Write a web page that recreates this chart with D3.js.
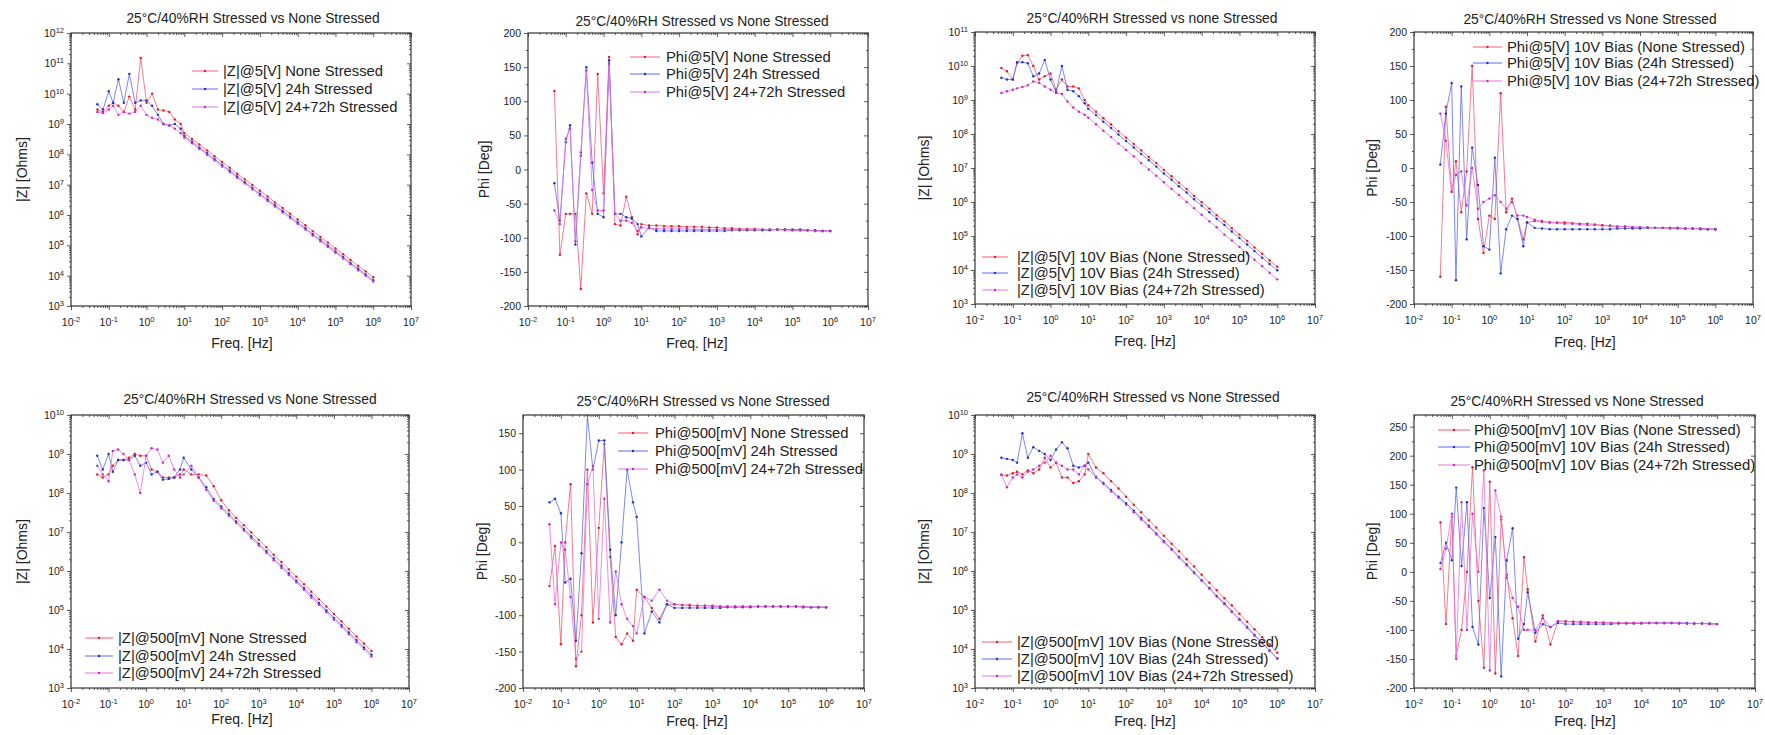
<!DOCTYPE html>
<html>
<head>
<meta charset="utf-8">
<script src="https://cdn.jsdelivr.net/npm/d3@7"></script>
<style>
  body { margin: 0; background: #fff; }
  text { font-family: "Liberation Sans", Arial, sans-serif; fill: #222; }
</style>
</head>
<body>
<script>
// frequency points shared by every sweep (Hz)
const freq = [0.05, 0.07, 0.1, 0.13, 0.18, 0.25, 0.35, 0.5, 0.7, 1, 1.4, 2, 2.8, 4, 5.6, 8,
  10, 16, 25, 40, 63, 100, 160, 250, 400, 630, 1e3, 1.6e3, 2.5e3, 4e3, 6.3e3,
  1e4, 1.6e4, 2.5e4, 4e4, 6.3e4, 1e5, 1.6e5, 2.5e5, 4e5, 6.3e5, 1e6];

// |Z|@5[V]
const zA_none = [3e9, 2.5e9, 4e9, 5e9, 4e9, 2.5e9, 8e9, 3e9, 1.5e11, 5e9, 1e10, 3e9, 2.8e9, 2.5e9, 1.4e9, 1e9, 5e8, 3.2e8, 2.1e8, 1.35e8, 8.7e7, 5.6e7, 3.6e7, 2.3e7, 1.5e7, 9.8e6, 6.3e6, 4.1e6, 2.6e6, 1.7e6, 1.1e6, 7.1e5, 4.6e5, 2.95e5, 1.9e5, 1.23e5, 7.9e4, 5.1e4, 3.3e4, 2.1e4, 1.38e4, 8.9e3];
const zA_24h = [4.5e9, 3e9, 1.2e10, 5e9, 3e10, 5e9, 4.5e10, 5e9, 6e9, 6e9, 4e9, 2e9, 1e9, 9e8, 1e9, 7e8, 4e8, 2.6e8, 1.67e8, 1.08e8, 7e7, 4.5e7, 2.9e7, 1.87e7, 1.2e7, 7.8e6, 5e6, 3.25e6, 2.1e6, 1.36e6, 8.8e5, 5.65e5, 3.65e5, 2.36e5, 1.52e5, 9.8e4, 6.3e4, 4.1e4, 2.64e4, 1.7e4, 1.1e4, 7.1e3];
const zA_96h = [2.5e9, 2.3e9, 3e9, 4e9, 2e9, 2.5e9, 2.2e9, 2.5e9, 4e9, 2e9, 1.6e9, 1.4e9, 1e9, 9e8, 7e8, 5e8, 3.6e8, 2.3e8, 1.5e8, 9.7e7, 6.3e7, 4e7, 2.6e7, 1.7e7, 1.1e7, 7e6, 4.5e6, 2.9e6, 1.9e6, 1.2e6, 7.9e5, 5.1e5, 3.3e5, 2.1e5, 1.37e5, 8.8e4, 5.7e4, 3.7e4, 2.4e4, 1.5e4, 9.9e3, 6.4e3];

// Phi@5[V]
const phiA_none = [115, -125, -65, -65, -65, -175, -35, -65, 140, -35, 165, -80, -82, -40, -70, -95, -80, -82, -82, -83, -83, -83, -84, -84, -84, -85, -85, -86, -86, -87, -87, -87, -88, -88, -88, -88, -89, -89, -89, -90, -90, -90];
const phiA_24h = [-20, -75, 40, 65, -110, 20, 150, 10, -65, -70, 160, -65, -65, -70, -72, -80, -98, -85, -90, -90, -90, -90, -90, -90, -90, -90, -90, -90, -89, -89, -89, -89, -89, -89, -88, -88, -88, -88, -89, -89, -90, -90];
const phiA_96h = [-60, -80, 45, 60, -105, 25, 145, -30, -60, -60, 155, -65, -75, -75, -78, -90, -85, -86, -87, -87, -87, -87, -87, -88, -88, -88, -88, -88, -88, -88, -88, -88, -88, -88, -88, -89, -89, -89, -89, -90, -90, -90];

// |Z|@5[V] 10V bias
const zB_none = [8.7e9, 7e9, 4e9, 1.2e10, 2e10, 2.1e10, 1e10, 4e9, 5e9, 6e9, 2e9, 4e9, 2.5e9, 2.5e9, 2.2e9, 1e9, 7e8, 4.5e8, 2.9e8, 1.9e8, 1.2e8, 7.8e7, 5.1e7, 3.3e7, 2.1e7, 1.4e7, 8.8e6, 5.7e6, 3.7e6, 2.4e6, 1.5e6, 9.9e5, 6.4e5, 4.1e5, 2.7e5, 1.7e5, 1.1e5, 7.2e4, 4.6e4, 3e4, 1.9e4, 1.25e4];
const zB_24h = [4.5e9, 4e9, 4e9, 1.3e10, 1.3e10, 1.2e10, 5e9, 6e9, 1.5e10, 4e9, 1.7e9, 1e10, 2e9, 1.8e9, 1.3e9, 8e8, 5.5e8, 3.6e8, 2.3e8, 1.5e8, 9.6e7, 6.2e7, 4e7, 2.6e7, 1.7e7, 1.1e7, 6.9e6, 4.5e6, 2.9e6, 1.9e6, 1.2e6, 7.8e5, 5e5, 3.2e5, 2.1e5, 1.35e5, 8.7e4, 5.6e4, 3.6e4, 2.3e4, 1.5e4, 9.8e3];
const zB_96h = [1.6e9, 1.8e9, 2e9, 2.2e9, 2.4e9, 2.7e9, 3.5e9, 3.2e9, 2.5e9, 2e9, 1.6e9, 1.5e9, 9e8, 6e8, 4.5e8, 3.7e8, 3e8, 1.94e8, 1.25e8, 8.1e7, 5.2e7, 3.4e7, 2.2e7, 1.4e7, 9e6, 5.9e6, 3.8e6, 2.4e6, 1.6e6, 1e6, 6.6e5, 4.2e5, 2.7e5, 1.8e5, 1.1e5, 7.4e4, 4.8e4, 3.1e4, 2e4, 1.3e4, 8.3e3, 5.3e3];

// Phi@5[V] 10V bias
const phiB_none = [-160, 90, -35, 10, -65, -5, 150, -75, -125, -70, -75, 110, -65, -45, -75, -105, -80, -78, -79, -80, -80, -80, -81, -82, -82, -83, -84, -85, -86, -86, -87, -87, -88, -88, -88, -89, -89, -89, -89, -90, -90, -90];
const phiB_24h = [5, 80, 125, -165, 120, -105, 30, -25, -115, -120, 15, -155, -90, -70, -75, -115, -80, -88, -89, -90, -90, -90, -90, -90, -90, -90, -90, -90, -89, -89, -89, -89, -88, -88, -88, -88, -88, -89, -89, -89, -90, -90];
const phiB_96h = [80, 40, -35, -10, -5, -55, 0, -60, -50, -45, -40, -50, -60, -50, -70, -70, -72, -76, -78, -80, -81, -82, -82, -83, -84, -84, -85, -85, -86, -86, -87, -87, -87, -88, -88, -88, -88, -89, -89, -89, -90, -90];

// |Z|@500[mV]
const zC_none = [3e8, 2.5e8, 3e8, 5e8, 7e8, 7e8, 8e8, 1e9, 9e8, 9e8, 4e8, 3.5e8, 2.5e8, 2.5e8, 2.5e8, 3e8, 4e8, 3e8, 3e8, 2.8e8, 1.5e8, 6.5e7, 3.6e7, 2.3e7, 1.5e7, 9.8e6, 6.3e6, 4.1e6, 2.6e6, 1.7e6, 1.1e6, 7.1e5, 4.6e5, 2.95e5, 1.9e5, 1.23e5, 7.9e4, 5.1e4, 3.3e4, 2.1e4, 1.38e4, 8.9e3];
const zC_24h = [9e8, 4e8, 1e9, 3.5e8, 7e8, 7e8, 7e8, 9e8, 5e8, 6e8, 3e8, 3.5e8, 2.2e8, 2.3e8, 2.5e8, 4e8, 8e8, 4e8, 2.5e8, 1.4e8, 7e7, 4.5e7, 2.9e7, 1.87e7, 1.2e7, 7.8e6, 5e6, 3.25e6, 2.1e6, 1.36e6, 8.8e5, 5.65e5, 3.65e5, 2.36e5, 1.52e5, 9.8e4, 6.3e4, 4.1e4, 2.64e4, 1.7e4, 1.1e4, 7.1e3];
const zC_96h = [5e8, 3e8, 2e8, 1.2e9, 1.3e9, 1e9, 7e8, 3e8, 1e8, 9e8, 1.4e9, 1.3e9, 6e8, 9e8, 4e8, 2.5e8, 3e8, 5e8, 2.5e8, 1.2e8, 6.3e7, 4e7, 2.6e7, 1.7e7, 1.1e7, 7e6, 4.5e6, 2.9e6, 1.9e6, 1.2e6, 7.9e5, 5.1e5, 3.3e5, 2.1e5, 1.37e5, 8.8e4, 5.7e4, 3.7e4, 2.4e4, 1.5e4, 9.9e3, 6.4e3];

// Phi@500[mV]
const phiC_none = [-60, -5, -140, 0, 80, -170, -100, 100, -110, 20, 135, -20, -130, -140, -125, -135, -65, -75, -90, -105, -85, -85, -86, -86, -87, -87, -87, -88, -88, -88, -88, -88, -88, -88, -88, -88, -88, -88, -88, -89, -89, -89];
const phiC_24h = [55, 60, 40, -55, -50, -135, -15, 175, 100, 140, 140, -10, -100, 0, 100, 55, 35, -125, -95, -110, -85, -90, -90, -90, -90, -90, -90, -90, -89, -89, -89, -89, -88, -88, -88, -88, -88, -88, -89, -89, -89, -89];
const phiC_96h = [25, -85, 0, -10, -75, -160, -150, 80, 105, -105, 60, -110, -40, -85, -105, -115, -125, -75, -80, -65, -80, -85, -86, -87, -87, -87, -88, -88, -88, -88, -88, -88, -88, -88, -88, -88, -88, -88, -89, -89, -89, -89];

// |Z|@500[mV] 10V bias
const zD_none = [2.9e8, 2.8e8, 3.2e8, 3.5e8, 3e8, 3.8e8, 3.2e8, 4e8, 8e8, 4.5e8, 6e8, 2.5e8, 2.5e8, 1.8e8, 2e8, 3e8, 1e9, 4.5e8, 3.2e8, 2e8, 1.3e8, 8e7, 5e7, 3.2e7, 2e7, 1.3e7, 8e6, 5e6, 3.2e6, 2e6, 1.3e6, 8e5, 5e5, 3.2e5, 2e5, 1.3e5, 8e4, 5e4, 3.2e4, 2e4, 1.3e4, 8e3];
const zD_24h = [8e8, 7.5e8, 7e8, 6e8, 3.4e9, 8e8, 1.5e9, 1.2e9, 1e9, 7e8, 1.3e9, 2e9, 1.4e9, 5e8, 4.5e8, 5e8, 6e8, 2.5e8, 1.8e8, 1.2e8, 8e7, 5.5e7, 3.5e7, 2.3e7, 1.45e7, 9.2e6, 5.8e6, 3.7e6, 2.3e6, 1.5e6, 9.2e5, 5.8e5, 3.7e5, 2.3e5, 1.5e5, 9.2e4, 5.8e4, 3.7e4, 2.3e4, 1.45e4, 9.2e3, 5.8e3];
const zD_96h = [3e8, 1.4e8, 2.5e8, 3e8, 2.5e8, 3.5e8, 4e8, 5e8, 6e8, 9e8, 6e8, 5e8, 4e8, 4e8, 3e8, 5e8, 4e8, 2.6e8, 1.7e8, 1.1e8, 7.5e7, 5e7, 3.2e7, 2.1e7, 1.35e7, 8.6e6, 5.5e6, 3.5e6, 2.2e6, 1.4e6, 8.8e5, 5.6e5, 3.5e5, 2.2e5, 1.4e5, 8.9e4, 5.6e4, 3.5e4, 2.2e4, 1.4e4, 8.9e3, 5.6e3];

// Phi@500[mV] 10V bias
const phiD_none = [85, -90, 95, -145, -100, 0, 180, -50, -165, 155, -175, 90, -5, -80, -145, 25, -30, -120, -75, -125, -85, -85, -86, -86, -87, -87, -87, -88, -88, -88, -88, -88, -88, -88, -88, -88, -89, -89, -89, -89, -90, -90];
const phiD_24h = [15, 50, 20, 145, 10, 120, -95, -125, 110, -45, 60, -180, 20, 75, -115, -90, -35, -105, -90, -95, -88, -90, -90, -90, -90, -90, -90, -90, -89, -89, -89, -89, -88, -88, -88, -88, -88, -88, -89, -89, -89, -90];
const phiD_96h = [5, 40, 100, -150, 120, -100, 100, 0, 175, -170, 140, 95, -10, -45, -60, -100, -100, -100, -80, -95, -85, -86, -86, -87, -87, -87, -88, -88, -88, -88, -88, -88, -88, -88, -88, -88, -88, -89, -89, -89, -89, -90];

// tick labels
const xTickExps = [-2, -1, 0, 1, 2, 3, 4, 5, 6, 7];
const zExps12 = [3, 4, 5, 6, 7, 8, 9, 10, 11, 12];
const zExps11 = [3, 4, 5, 6, 7, 8, 9, 10, 11];
const zExps10 = [3, 4, 5, 6, 7, 8, 9, 10];
const phiTicks200 = [-200, -150, -100, -50, 0, 50, 100, 150, 200];
const phiTicks150 = [-200, -150, -100, -50, 0, 50, 100, 150];
const phiTicks250 = [-200, -150, -100, -50, 0, 50, 100, 150, 200, 250];

// titles and legend texts
const titleMain = '25°C/40%RH Stressed vs None Stressed';
const titleLower = '25°C/40%RH Stressed vs none Stressed';
const legA = ['|Z|@5[V] None Stressed', '|Z|@5[V] 24h Stressed', '|Z|@5[V] 24+72h Stressed'];
const legPA = ['Phi@5[V] None Stressed', 'Phi@5[V] 24h Stressed', 'Phi@5[V] 24+72h Stressed'];
const legB = ['|Z|@5[V] 10V Bias (None Stressed)', '|Z|@5[V] 10V Bias (24h Stressed)', '|Z|@5[V] 10V Bias (24+72h Stressed)'];
const legPB = ['Phi@5[V] 10V Bias (None Stressed)', 'Phi@5[V] 10V Bias (24h Stressed)', 'Phi@5[V] 10V Bias (24+72h Stressed)'];
const legC = ['|Z|@500[mV] None Stressed', '|Z|@500[mV] 24h Stressed', '|Z|@500[mV] 24+72h Stressed'];
const legPC = ['Phi@500[mV] None Stressed', 'Phi@500[mV] 24h Stressed', 'Phi@500[mV] 24+72h Stressed'];
const legD = ['|Z|@500[mV] 10V Bias (None Stressed)', '|Z|@500[mV] 10V Bias (24h Stressed)', '|Z|@500[mV] 10V Bias (24+72h Stressed)'];
const legPD = ['Phi@500[mV] 10V Bias (None Stressed)', 'Phi@500[mV] 10V Bias (24h Stressed)', 'Phi@500[mV] 10V Bias (24+72h Stressed)'];

const lineColors = ['#f65a72', '#5f6af0', '#e672e2'];
const dotColors = ['#d81c2c', '#1f2fc4', '#c02ec0'];

const width = 1765;
const height = 735;

const svg = d3.select('body')
    .append('svg')
    .attr('width', width)
    .attr('height', height);

const panels = [
    { left: 71, top: 33, w: 340, h: 273, log: true, yDom: [1e3, 1e12], yTicks: zExps12,
      title: titleMain, tx: 253, ty: 23, ylab: '|Z| [Ohms]', ylx: 27, xlx: 242, xly: 348,
      series: [zA_none, zA_24h, zA_96h], leg: legA, lg: { x1: 192, x2: 218, tx: 223, ys: [71, 89, 107] } },
    { left: 528, top: 33, w: 340, h: 273, log: false, yDom: [-200, 200], yTicks: phiTicks200,
      title: titleMain, tx: 702, ty: 26, ylab: 'Phi [Deg]', ylx: 489, xlx: 697, xly: 348,
      series: [phiA_none, phiA_24h, phiA_96h], leg: legPA, lg: { x1: 630, x2: 660, tx: 666, ys: [57, 74, 92] } },
    { left: 975, top: 32, w: 340, h: 272, log: true, yDom: [1e3, 1e11], yTicks: zExps11,
      title: titleLower, tx: 1152, ty: 23, ylab: '|Z| [Ohms]', ylx: 929, xlx: 1145, xly: 346,
      series: [zB_none, zB_24h, zB_96h], leg: legB, lg: { x1: 982, x2: 1008, tx: 1017, ys: [257, 273, 290] } },
    { left: 1414, top: 32, w: 339, h: 272, log: false, yDom: [-200, 200], yTicks: phiTicks200,
      title: titleMain, tx: 1590, ty: 24, ylab: 'Phi [Deg]', ylx: 1377, xlx: 1585, xly: 347,
      series: [phiB_none, phiB_24h, phiB_96h], leg: legPB, lg: { x1: 1473, x2: 1502, tx: 1507, ys: [47, 63, 81] } },
    { left: 71, top: 415, w: 338, h: 273, log: true, yDom: [1e3, 1e10], yTicks: zExps10,
      title: titleMain, tx: 250, ty: 404, ylab: '|Z| [Ohms]', ylx: 27, xlx: 242, xly: 724,
      series: [zC_none, zC_24h, zC_96h], leg: legC, lg: { x1: 85, x2: 113, tx: 118, ys: [638, 656, 673] } },
    { left: 523, top: 415, w: 341, h: 273, log: false, yDom: [-200, 175], yTicks: phiTicks150,
      title: titleMain, tx: 703, ty: 406, ylab: 'Phi [Deg]', ylx: 487, xlx: 697, xly: 726,
      series: [phiC_none, phiC_24h, phiC_96h], leg: legPC, lg: { x1: 618, x2: 648, tx: 655, ys: [433, 451, 469] } },
    { left: 975, top: 415, w: 340, h: 273, log: true, yDom: [1e3, 1e10], yTicks: zExps10,
      title: titleMain, tx: 1153, ty: 402, ylab: '|Z| [Ohms]', ylx: 929, xlx: 1145, xly: 726,
      series: [zD_none, zD_24h, zD_96h], leg: legD, lg: { x1: 982, x2: 1012, tx: 1017, ys: [642, 659, 676] } },
    { left: 1414, top: 415, w: 341, h: 273, log: false, yDom: [-200, 270], yTicks: phiTicks250,
      title: titleMain, tx: 1577, ty: 406, ylab: 'Phi [Deg]', ylx: 1377, xlx: 1585, xly: 726,
      series: [phiD_none, phiD_24h, phiD_96h], leg: legPD, lg: { x1: 1438, x2: 1470, tx: 1474, ys: [430, 447, 465] } }
];

function styleAxis(sel) {
    sel.select('.domain').remove();
    sel.selectAll('line').attr('stroke', '#333').attr('stroke-width', 0.8);
}

function logMinor(exps) {
    const out = [];
    exps.slice(0, -1).forEach((e) => {
        for (let m = 2; m < 10; m++) out.push(m * Math.pow(10, e));
    });
    return out;
}

function powLabel(sel, e) {
    sel.append('tspan').text('10');
    sel.append('tspan').attr('dy', -4).attr('font-size', 7.5).text(e);
}

panels.forEach((p, pi) => {
    const g = svg.append('g').attr('transform', `translate(${p.left},${p.top})`);

    const x = d3.scaleLog().domain([1e-2, 1e7]).range([0, p.w]);
    const y = p.log
        ? d3.scaleLog().domain(p.yDom).range([p.h, 0])
        : d3.scaleLinear().domain(p.yDom).range([p.h, 0]);

    const xMaj = xTickExps.map((e) => Math.pow(10, e));
    const xMin = logMinor(xTickExps);
    const yMaj = p.log ? p.yTicks.map((e) => Math.pow(10, e)) : p.yTicks;
    const yMin = p.log ? logMinor(p.yTicks)
        : d3.range(p.yDom[0] + 25, p.yDom[1], 50);

    // x axes (bottom outward, top inward)
    g.append('g').attr('transform', `translate(0,${p.h})`)
        .call(d3.axisBottom(x).tickValues(xMaj).tickSize(4).tickFormat('')).call(styleAxis);
    g.append('g').attr('transform', `translate(0,${p.h})`)
        .call(d3.axisBottom(x).tickValues(xMin).tickSize(2).tickFormat('')).call(styleAxis);
    g.append('g').call(d3.axisTop(x).tickValues(xMaj).tickSize(-4).tickFormat('')).call(styleAxis);
    g.append('g').call(d3.axisTop(x).tickValues(xMin).tickSize(-2).tickFormat('')).call(styleAxis);

    // y axes (left outward, right inward)
    g.append('g').call(d3.axisLeft(y).tickValues(yMaj).tickSize(4).tickFormat('')).call(styleAxis);
    g.append('g').call(d3.axisLeft(y).tickValues(yMin).tickSize(2).tickFormat('')).call(styleAxis);
    g.append('g').attr('transform', `translate(${p.w},0)`)
        .call(d3.axisRight(y).tickValues(yMaj).tickSize(-4).tickFormat('')).call(styleAxis);
    g.append('g').attr('transform', `translate(${p.w},0)`)
        .call(d3.axisRight(y).tickValues(yMin).tickSize(-2).tickFormat('')).call(styleAxis);

    g.append('rect')
        .attr('width', p.w).attr('height', p.h)
        .attr('fill', 'none').attr('stroke', '#333').attr('stroke-width', 1.2);

    // x tick labels
    xTickExps.forEach((e) => {
        g.append('text')
            .attr('x', x(Math.pow(10, e)))
            .attr('y', p.h + 20)
            .attr('text-anchor', 'middle')
            .attr('font-size', 10.5)
            .call(powLabel, e);
    });

    // y tick labels
    p.yTicks.forEach((t) => {
        const t2 = g.append('text')
            .attr('x', -7)
            .attr('y', y(p.log ? Math.pow(10, t) : t) + 4)
            .attr('text-anchor', 'end')
            .attr('font-size', 10.5);
        if (p.log) t2.call(powLabel, t);
        else t2.text(t);
    });

    // data
    const clipId = `clip${pi}`;
    svg.append('clipPath').attr('id', clipId)
        .append('rect').attr('width', p.w).attr('height', p.h);
    const plot = g.append('g').attr('clip-path', `url(#${clipId})`);

    const line = d3.line()
        .x((d) => x(d[0]))
        .y((d) => y(d[1]));

    p.series.forEach((vals, si) => {
        const pts = d3.zip(freq, vals);
        plot.append('path')
            .datum(pts)
            .attr('d', line)
            .attr('fill', 'none')
            .attr('stroke', lineColors[si])
            .attr('stroke-width', 1)
            .attr('stroke-opacity', 0.8);
        plot.append('g').selectAll('circle')
            .data(pts)
            .enter()
            .append('circle')
            .attr('cx', (d) => x(d[0]))
            .attr('cy', (d) => y(d[1]))
            .attr('r', 1.2)
            .attr('fill', dotColors[si]);
    });

    // legend
    p.leg.forEach((label, i) => {
        const ly = p.lg.ys[i];
        svg.append('line')
            .attr('x1', p.lg.x1).attr('x2', p.lg.x2)
            .attr('y1', ly).attr('y2', ly)
            .attr('stroke', lineColors[i]).attr('stroke-width', 1);
        svg.append('circle')
            .attr('cx', (p.lg.x1 + p.lg.x2) / 2).attr('cy', ly).attr('r', 1.2)
            .attr('fill', dotColors[i]);
        svg.append('text')
            .attr('x', p.lg.tx).attr('y', ly + 5)
            .attr('font-size', 14.8)
            .text(label);
    });

    // title and axis labels
    svg.append('text')
        .attr('x', p.tx).attr('y', p.ty)
        .attr('text-anchor', 'middle')
        .attr('font-size', 13.8)
        .text(p.title);

    svg.append('text')
        .attr('x', p.xlx).attr('y', p.xly)
        .attr('text-anchor', 'middle')
        .attr('font-size', 14)
        .text('Freq. [Hz]');

    svg.append('text')
        .attr('transform', `translate(${p.ylx},${p.top + p.h / 2}) rotate(-90)`)
        .attr('text-anchor', 'middle')
        .attr('font-size', 14)
        .text(p.ylab);
});
</script>
</body>
</html>
